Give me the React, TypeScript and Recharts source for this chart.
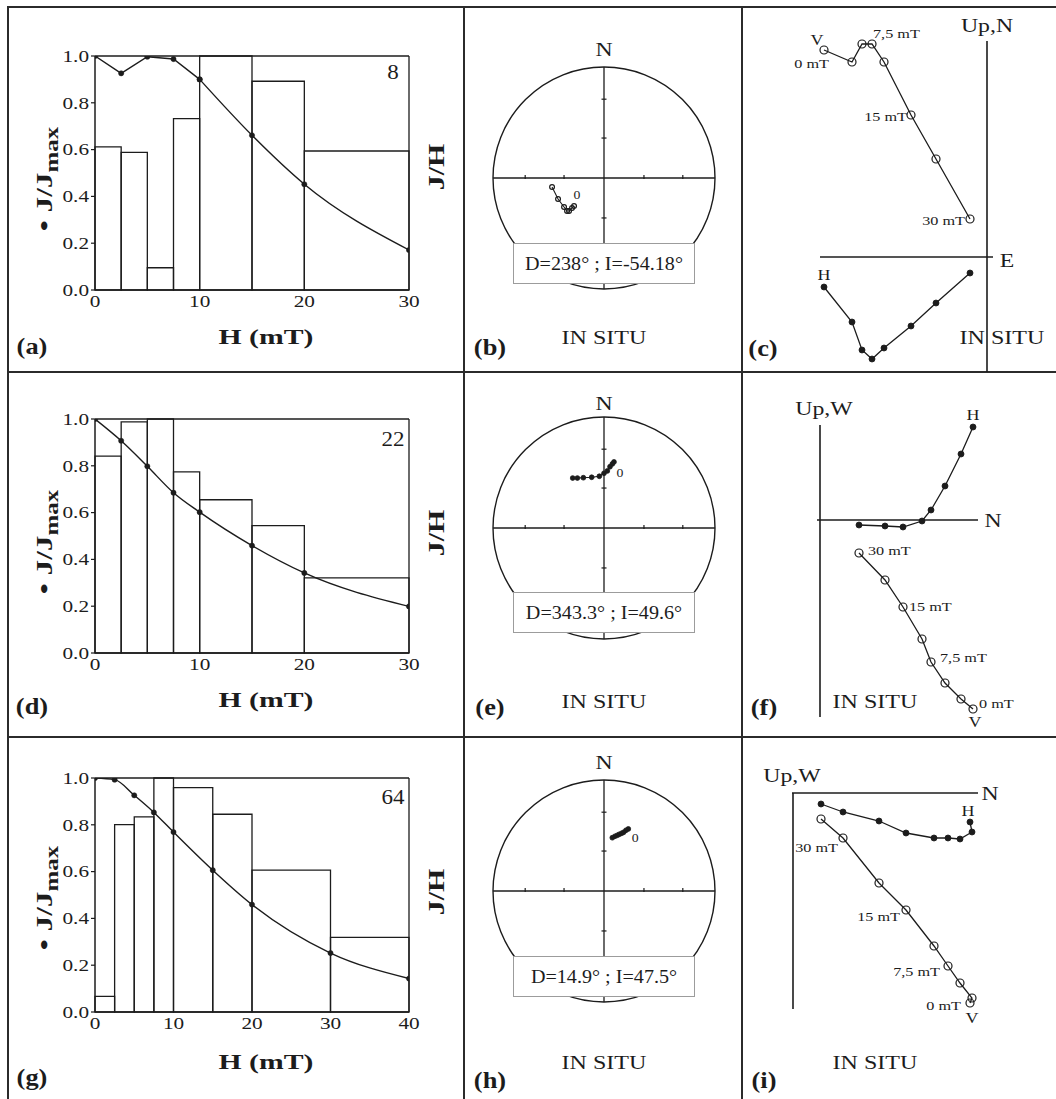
import React from 'react';
import {
  ComposedChart, ScatterChart, Scatter, Line, XAxis, YAxis,
  ReferenceArea, ReferenceLine, ReferenceDot,
} from 'recharts';

const FONT = '"Liberation Serif", "Times New Roman", Times, serif';
const INK = '#1c1c1c';

// ---------------- (a) (d) (g) : AF demagnetisation, J/Jmax and J/H ----------------
const binEdgesA = [0, 2.5, 5, 7.5, 10, 15, 20, 30];
const histA = [0.612, 0.588, 0.095, 0.732, 1.0, 0.892, 0.594];
const fieldA = [0, 2.5, 5, 7.5, 10, 15, 20, 30];
const jA = [1.0, 0.926, 0.997, 0.987, 0.9, 0.661, 0.452, 0.171];

const binEdgesD = [0, 2.5, 5, 7.5, 10, 15, 20, 30];
const histD = [0.841, 0.988, 1.0, 0.774, 0.655, 0.544, 0.321];
const fieldD = [0, 2.5, 5, 7.5, 10, 15, 20, 30];
const jD = [1.0, 0.907, 0.798, 0.685, 0.602, 0.459, 0.342, 0.199];

const binEdgesG = [0, 2.5, 5, 7.5, 10, 15, 20, 30, 40];
const histG = [0.067, 0.801, 0.834, 1.0, 0.959, 0.845, 0.606, 0.319];
const fieldG = [0, 2.5, 5, 7.5, 10, 15, 20, 30, 40];
const jG = [1.0, 0.993, 0.926, 0.853, 0.769, 0.606, 0.459, 0.252, 0.143];

const jTicks = [0, 0.2, 0.4, 0.6, 0.8, 1.0];
const hTicks30 = [0, 10, 20, 30];
const hTicks40 = [0, 10, 20, 30, 40];

// ---------------- (b) (e) (h) : equal-area stereonets (projected x = E, y = N) ----------------
const netTicks = [-0.71, -0.36, 0.36, 0.71];
const stereoBx = [-0.270, -0.288, -0.315, -0.333, -0.360, -0.414, -0.468];
const stereoBy = [-0.252, -0.270, -0.297, -0.297, -0.261, -0.189, -0.081];
const stereoEx = [0.090, 0.075, 0.054, 0.030, 0.0, -0.042, -0.111, -0.186, -0.240, -0.282];
const stereoEy = [0.595, 0.577, 0.552, 0.514, 0.493, 0.466, 0.457, 0.453, 0.450, 0.450];
const stereoHx = [0.219, 0.198, 0.177, 0.159, 0.138, 0.120, 0.099, 0.075];
const stereoHy = [0.559, 0.547, 0.529, 0.520, 0.511, 0.502, 0.493, 0.480];

// ---------------- (c) (f) (i) : Zijderveld diagrams ----------------
const stepsC = [0, 2.5, 5, 7.5, 10, 15, 20, 30];
const eastC = [-16.3, -13.5, -12.5, -11.5, -10.3, -7.6, -5.1, -1.7];
const northC = [-3.0, -6.5, -9.3, -10.2, -9.1, -6.9, -4.6, -1.6];
const upC = [20.7, 19.5, 21.3, 21.3, 19.5, 14.2, 9.8, 3.8];

const stepsF = [0, 2.5, 5, 7.5, 10, 15, 20, 30];
const northF = [15.3, 14.1, 12.5, 11.1, 10.2, 8.3, 6.5, 3.9];
const westF = [9.3, 6.6, 3.4, 1.0, -0.1, -0.7, -0.6, -0.5];
const upF = [-18.9, -17.9, -16.3, -14.2, -11.9, -8.7, -6.0, -3.3];

const stepsI = [0, 2.5, 5, 7.5, 10, 15, 20, 30, 40];
const northI = [17.7, 17.9, 16.7, 15.5, 14.1, 11.3, 8.6, 5.0, 2.8];
const westI = [-2.9, -3.9, -4.6, -4.5, -4.5, -4.0, -2.8, -1.9, -1.1];
const upI = [-21.0, -20.5, -19.0, -17.3, -15.3, -11.7, -9.0, -4.5, -2.6];

const labelledSteps = [0, 3, 5, 7];

// ---------------- helpers ----------------
type Anchor = 'start' | 'middle' | 'end';

function Txt({ x, y, size = 18, bold = false, anchor = 'middle', sx = 1.25, rot = 0, children }: any) {
  const tx = anchor === 'middle' ? '-50%' : anchor === 'end' ? '-100%' : '0%';
  const origin = anchor === 'middle' ? 'center center' : anchor === 'end' ? 'right center' : 'left center';
  return (
    <div style={{ position: 'absolute', left: x, top: y, transform: `rotate(${rot}deg)`, transformOrigin: '0 0' }}>
      <div style={{ transform: `translate(${tx}, -50%)`, whiteSpace: 'nowrap', lineHeight: 1, fontFamily: FONT, fontSize: size, fontWeight: bold ? 700 : 400, color: INK }}>
        <div style={{ transform: `scaleX(${sx})`, transformOrigin: origin }}>{children}</div>
      </div>
    </div>
  );
}

function Rule({ x, y, w, h }: any) {
  return <div style={{ position: 'absolute', left: x, top: y, width: w, height: h, background: '#2b2b2b' }} />;
}

const dotLabel = (text: string, dx: number, dy: number, anchor: Anchor, size = 13.5, sx = 1.2) =>
  (props: any) => {
    const vb = props.viewBox || {};
    const x = (vb.x ?? 0) + (vb.width ?? 0) / 2 + dx;
    const y = (vb.y ?? 0) + (vb.height ?? 0) / 2 + dy;
    return (
      <g transform={`translate(${x},${y}) scale(${sx},1)`}>
        <text x={0} y={0} textAnchor={anchor} dominantBaseline="central" fontFamily={FONT} fontSize={size} fill={INK}>{text}</text>
      </g>
    );
  };

const XTick = (p: any) => (
  <g transform={`translate(${p.x},${p.y + 11}) scale(1.25,1)`}>
    <text x={0} y={0} textAnchor="middle" dominantBaseline="central" fontFamily={FONT} fontSize={17} fill={INK}>{p.payload.value}</text>
  </g>
);
const YTick = (p: any) => (
  <g transform={`translate(${p.x},${p.y}) scale(1.25,1)`}>
    <text x={0} y={0} textAnchor="end" dominantBaseline="central" fontFamily={FONT} fontSize={17} fill={INK}>{Number(p.payload.value).toFixed(1)}</text>
  </g>
);

const filledDot = (r: number) => (p: any) => <circle cx={p.cx} cy={p.cy} r={r} fill={INK} stroke={INK} strokeWidth={0.8} />;
const openDot = (r: number) => (p: any) => <circle cx={p.cx} cy={p.cy} r={r} fill="none" stroke={INK} strokeWidth={1.2} />;
const vTick = (p: any) => <line x1={p.cx} x2={p.cx} y1={p.cy - 3} y2={p.cy + 1} stroke={INK} strokeWidth={1.2} />;
const hTick = (p: any) => <line x1={p.cx - 2.5} x2={p.cx + 2.5} y1={p.cy} y2={p.cy} stroke={INK} strokeWidth={1.2} />;
const circleShape = (p: any) => (
  <ellipse cx={p.x + p.width / 2} cy={p.y + p.height / 2} rx={p.width / 2} ry={p.height / 2} fill="none" stroke={INK} strokeWidth={1.4} />
);

const fmtStep = (s: number) => `${String(s).replace('.', ',')} mT`;

// ---------------- panels ----------------
function DemagPanel({ plotTop, edges, hist, field, j, ticks, xMax, smoothFrom }: any) {
  const plotH = 234;
  const data = field.map((h: number, i: number) => ({ h, j: j[i] }));
  const straight = data.slice(0, smoothFrom + 1);
  const smooth = data.slice(smoothFrom);
  const dotStyle = { r: 2.6, fill: INK, stroke: INK, strokeWidth: 0.5 };
  return (
    <div style={{ position: 'absolute', left: 40, top: plotTop - 10 }}>
      <ComposedChart width={384} height={plotH + 40} data={data} margin={{ top: 10, right: 15, bottom: 0, left: 0 }}>
        <XAxis type="number" dataKey="h" domain={[0, xMax]} ticks={ticks} interval={0} allowDataOverflow height={30}
          tickLine={false} tickSize={0} tickMargin={0} axisLine={{ stroke: INK, strokeWidth: 1.5 }} tick={XTick} />
        <YAxis type="number" domain={[0, 1]} ticks={jTicks} interval={0} allowDataOverflow width={55}
          tickSize={4} tickMargin={2} tickLine={{ stroke: INK, strokeWidth: 1.2 }} axisLine={{ stroke: INK, strokeWidth: 1.5 }} tick={YTick} />
        {hist.map((v: number, i: number) => (
          <ReferenceArea key={i} x1={edges[i]} x2={edges[i + 1]} y1={0} y2={v} fill="none" fillOpacity={0}
            stroke={INK} strokeWidth={1.3} ifOverflow="visible" />
        ))}
        <ReferenceLine y={1} stroke={INK} strokeWidth={1.3} ifOverflow="visible" />
        <ReferenceLine x={xMax} stroke={INK} strokeWidth={1.3} ifOverflow="visible" />
        {smoothFrom > 0 && (
          <Line data={straight} type="linear" dataKey="j" stroke={INK} strokeWidth={1.4}
            dot={dotStyle} isAnimationActive={false} />
        )}
        <Line data={smooth} type="monotone" dataKey="j" stroke={INK} strokeWidth={1.4}
          dot={dotStyle} isAnimationActive={false} />
      </ComposedChart>
    </div>
  );
}

function Stereonet({ cx, cy, r, xs, ys, open, zero }: any) {
  const M = 20;
  const pts = xs.map((x: number, i: number) => ({ x, y: ys[i] }));
  const hTicks = netTicks.map((x) => ({ x, y: 0 }));
  const vTicks = netTicks.map((y) => ({ x: 0, y }));
  return (
    <div style={{ position: 'absolute', left: cx - r - M, top: cy - r - M }}>
      <ScatterChart width={2 * r + 2 * M} height={2 * r + 2 * M} margin={{ top: M, right: M, bottom: M, left: M }}>
        <XAxis type="number" dataKey="x" domain={[-1, 1]} hide allowDataOverflow />
        <YAxis type="number" dataKey="y" domain={[-1, 1]} hide allowDataOverflow />
        <ReferenceArea x1={-1} x2={1} y1={-1} y2={1} shape={circleShape} ifOverflow="visible" />
        <ReferenceLine x={0} stroke={INK} strokeWidth={1.3} ifOverflow="visible" />
        <ReferenceLine y={0} stroke={INK} strokeWidth={1.3} ifOverflow="visible" />
        <Scatter data={hTicks} shape={vTick} isAnimationActive={false} />
        <Scatter data={vTicks} shape={hTick} isAnimationActive={false} />
        <Scatter data={pts} line={{ stroke: INK, strokeWidth: 1.1 }} shape={open ? openDot(2.4) : filledDot(2.4)} isAnimationActive={false} />
        <ReferenceDot x={pts[0].x} y={pts[0].y} r={0} fill="none" stroke="none" ifOverflow="visible"
          label={dotLabel('0', zero[0], zero[1], 'middle', 12, 1.15)} />
      </ScatterChart>
    </div>
  );
}

function Zijder({ box, xDom, yDom, xs, hs, vs, steps, segs, stepLab, hLab, vLab }: any) {
  const M = 30;
  const H = xs.map((x: number, i: number) => ({ x, y: hs[i] }));
  const V = xs.map((x: number, i: number) => ({ x, y: vs[i] }));
  return (
    <div style={{ position: 'absolute', left: box.left - M, top: box.top - M }}>
      <ScatterChart width={box.w + 2 * M} height={box.h + 2 * M} margin={{ top: M, right: M, bottom: M, left: M }}>
        <XAxis type="number" dataKey="x" domain={xDom} hide allowDataOverflow />
        <YAxis type="number" dataKey="y" domain={yDom} hide allowDataOverflow />
        {segs.map((s: any, i: number) => (
          <ReferenceLine key={i} segment={s} stroke={INK} strokeWidth={1.6} ifOverflow="visible" />
        ))}
        <Scatter data={H} line={{ stroke: INK, strokeWidth: 1.3 }} shape={filledDot(3)} isAnimationActive={false} />
        <Scatter data={V} line={{ stroke: INK, strokeWidth: 1.3 }} shape={openDot(4)} isAnimationActive={false} />
        {labelledSteps.map((idx, k) => (
          <ReferenceDot key={`s${k}`} x={V[idx].x} y={V[idx].y} r={0} fill="none" stroke="none" ifOverflow="visible"
            label={dotLabel(fmtStep(steps[idx]), stepLab[k][0], stepLab[k][1], stepLab[k][2])} />
        ))}
        <ReferenceDot x={H[0].x} y={H[0].y} r={0} fill="none" stroke="none" ifOverflow="visible"
          label={dotLabel('H', hLab[0], hLab[1], 'middle', 15, 1.2)} />
        <ReferenceDot x={V[0].x} y={V[0].y} r={0} fill="none" stroke="none" ifOverflow="visible"
          label={dotLabel('V', vLab[0], vLab[1], 'middle', 15, 1.2)} />
      </ScatterChart>
    </div>
  );
}

function YLab({ x, y }: any) {
  return (
    <Txt x={x} y={y} size={24} bold rot={-90} sx={1.3}>
      {'\u2022 J/J'}
      <span style={{ fontSize: '0.8em', position: 'relative', top: '0.32em' }}>max</span>
    </Txt>
  );
}

function DIBox({ top, text }: any) {
  return (
    <>
      <div style={{ position: 'absolute', left: 513, top, width: 182, height: 41, boxSizing: 'border-box', border: '1px solid #9c9c9c', background: '#fff' }} />
      <Txt x={604} y={top + 20} size={19} sx={1.06}>{text}</Txt>
    </>
  );
}

export default function App() {
  return (
    <div style={{ position: 'absolute', left: 0, top: 0, width: 1056, height: 1099, background: '#fff', overflow: 'hidden' }}>
      {/* panel grid */}
      <Rule x={7} y={6} w={1049} h={2} />
      <Rule x={7} y={6} w={2} h={1093} />
      <Rule x={463} y={6} w={2} h={1093} />
      <Rule x={741} y={6} w={2} h={1093} />
      <Rule x={7} y={371} w={1049} h={2} />
      <Rule x={7} y={736} w={1049} h={2} />

      {/* (a) (d) (g) */}
      <DemagPanel plotTop={56} edges={binEdgesA} hist={histA} field={fieldA} j={jA} ticks={hTicks30} xMax={30} smoothFrom={4} />
      <DemagPanel plotTop={419} edges={binEdgesD} hist={histD} field={fieldD} j={jD} ticks={hTicks30} xMax={30} smoothFrom={0} />
      <DemagPanel plotTop={778} edges={binEdgesG} hist={histG} field={fieldG} j={jG} ticks={hTicks40} xMax={40} smoothFrom={0} />

      {/* (b) (e) (h) */}
      <Stereonet cx={604} cy={178} r={111} xs={stereoBx} ys={stereoBy} open zero={[3, -11]} />
      <Stereonet cx={604} cy={528} r={111} xs={stereoEx} ys={stereoEy} open={false} zero={[6, 11]} />
      <Stereonet cx={604} cy={891} r={111} xs={stereoHx} ys={stereoHy} open={false} zero={[7, 9]} />
      <DIBox top={243} text="D=238° ; I=-54.18°" />
      <DIBox top={592} text="D=343.3° ; I=49.6°" />
      <DIBox top={956} text="D=14.9° ; I=47.5°" />

      {/* (c) (f) (i) */}
      <Zijder box={{ left: 787, top: 27, w: 220, h: 345 }} xDom={[-20, 2]} yDom={[-11.5, 23]}
        xs={eastC} hs={northC} vs={upC} steps={stepsC}
        segs={[[{ x: 0, y: 21.6 }, { x: 0, y: -11.5 }], [{ x: -16.7, y: 0 }, { x: 0.6, y: 0 }]]}
        stepLab={[[5, 13, 'end'], [1, -11, 'start'], [-4, 1, 'end'], [-5, 1, 'end']]}
        hLab={[0, -12]} vLab={[-7, -10]} />
      <Zijder box={{ left: 800, top: 400, w: 200, h: 330 }} xDom={[-2, 18]} yDom={[-21, 12]}
        xs={northF} hs={westF} vs={upF} steps={stepsF}
        segs={[[{ x: 0, y: 9.5 }, { x: 0, y: -19.7 }], [{ x: -0.3, y: 0 }, { x: 15.8, y: 0 }]]}
        stepLab={[[6, -6, 'start'], [9, -5, 'start'], [6, -1, 'start'], [9, -3, 'start']]}
        hLab={[0, -12]} vLab={[2, 13]} />
      <Zijder box={{ left: 783, top: 783, w: 220, h: 250 }} xDom={[-1, 21]} yDom={[-24, 1]}
        xs={northI} hs={westI} vs={upI} steps={stepsI}
        segs={[[{ x: -0.1, y: 0 }, { x: 18.5, y: 0 }], [{ x: 0, y: 0 }, { x: 0, y: -21.6 }]]}
        stepLab={[[-9, 2, 'end'], [-8, 5, 'end'], [-6, 6, 'end'], [-5, 9, 'end']]}
        hLab={[-2, -11]} vLab={[2, 15]} />

      {/* axis titles, annotations */}
      <YLab x={44} y={179} />
      <YLab x={44} y={542} />
      <YLab x={44} y={898} />
      <Txt x={436} y={167} size={23} bold rot={-90} sx={1.3}>J/H</Txt>
      <Txt x={436} y={533} size={23} bold rot={-90} sx={1.3}>J/H</Txt>
      <Txt x={436} y={892} size={23} bold rot={-90} sx={1.3}>J/H</Txt>
      <Txt x={266} y={337} size={22} bold sx={1.35}>H (mT)</Txt>
      <Txt x={266} y={700} size={22} bold sx={1.35}>H (mT)</Txt>
      <Txt x={266} y={1062} size={22} bold sx={1.35}>H (mT)</Txt>
      <Txt x={393} y={72} size={20} sx={1.15}>8</Txt>
      <Txt x={393} y={439} size={20} sx={1.15}>22</Txt>
      <Txt x={393} y={797} size={20} sx={1.15}>64</Txt>

      <Txt x={604} y={49} size={19}>N</Txt>
      <Txt x={604} y={403} size={19}>N</Txt>
      <Txt x={604} y={762} size={19}>N</Txt>
      <Txt x={604} y={338} size={18.5} sx={1.3}>IN SITU</Txt>
      <Txt x={604} y={702} size={18.5} sx={1.3}>IN SITU</Txt>
      <Txt x={604} y={1063} size={18.5} sx={1.3}>IN SITU</Txt>

      <Txt x={987} y={25} size={19}>Up,N</Txt>
      <Txt x={1007} y={260} size={19}>E</Txt>
      <Txt x={1002} y={338} size={18.5} sx={1.3}>IN SITU</Txt>
      <Txt x={824} y={408} size={19}>Up,W</Txt>
      <Txt x={993} y={520} size={19}>N</Txt>
      <Txt x={875} y={702} size={18.5} sx={1.3}>IN SITU</Txt>
      <Txt x={792} y={775} size={19}>Up,W</Txt>
      <Txt x={990} y={793} size={19}>N</Txt>
      <Txt x={875} y={1063} size={18.5} sx={1.3}>IN SITU</Txt>

      <Txt x={32} y={346} size={24} bold sx={1.1}>(a)</Txt>
      <Txt x={490} y={347} size={24} bold sx={1.1}>(b)</Txt>
      <Txt x={763} y={348} size={24} bold sx={1.1}>(c)</Txt>
      <Txt x={32} y={706} size={24} bold sx={1.1}>(d)</Txt>
      <Txt x={490} y={707} size={24} bold sx={1.1}>(e)</Txt>
      <Txt x={764} y={707} size={24} bold sx={1.1}>(f)</Txt>
      <Txt x={32} y={1077} size={24} bold sx={1.1}>(g)</Txt>
      <Txt x={490} y={1080} size={24} bold sx={1.1}>(h)</Txt>
      <Txt x={764} y={1080} size={24} bold sx={1.1}>(i)</Txt>
    </div>
  );
}
